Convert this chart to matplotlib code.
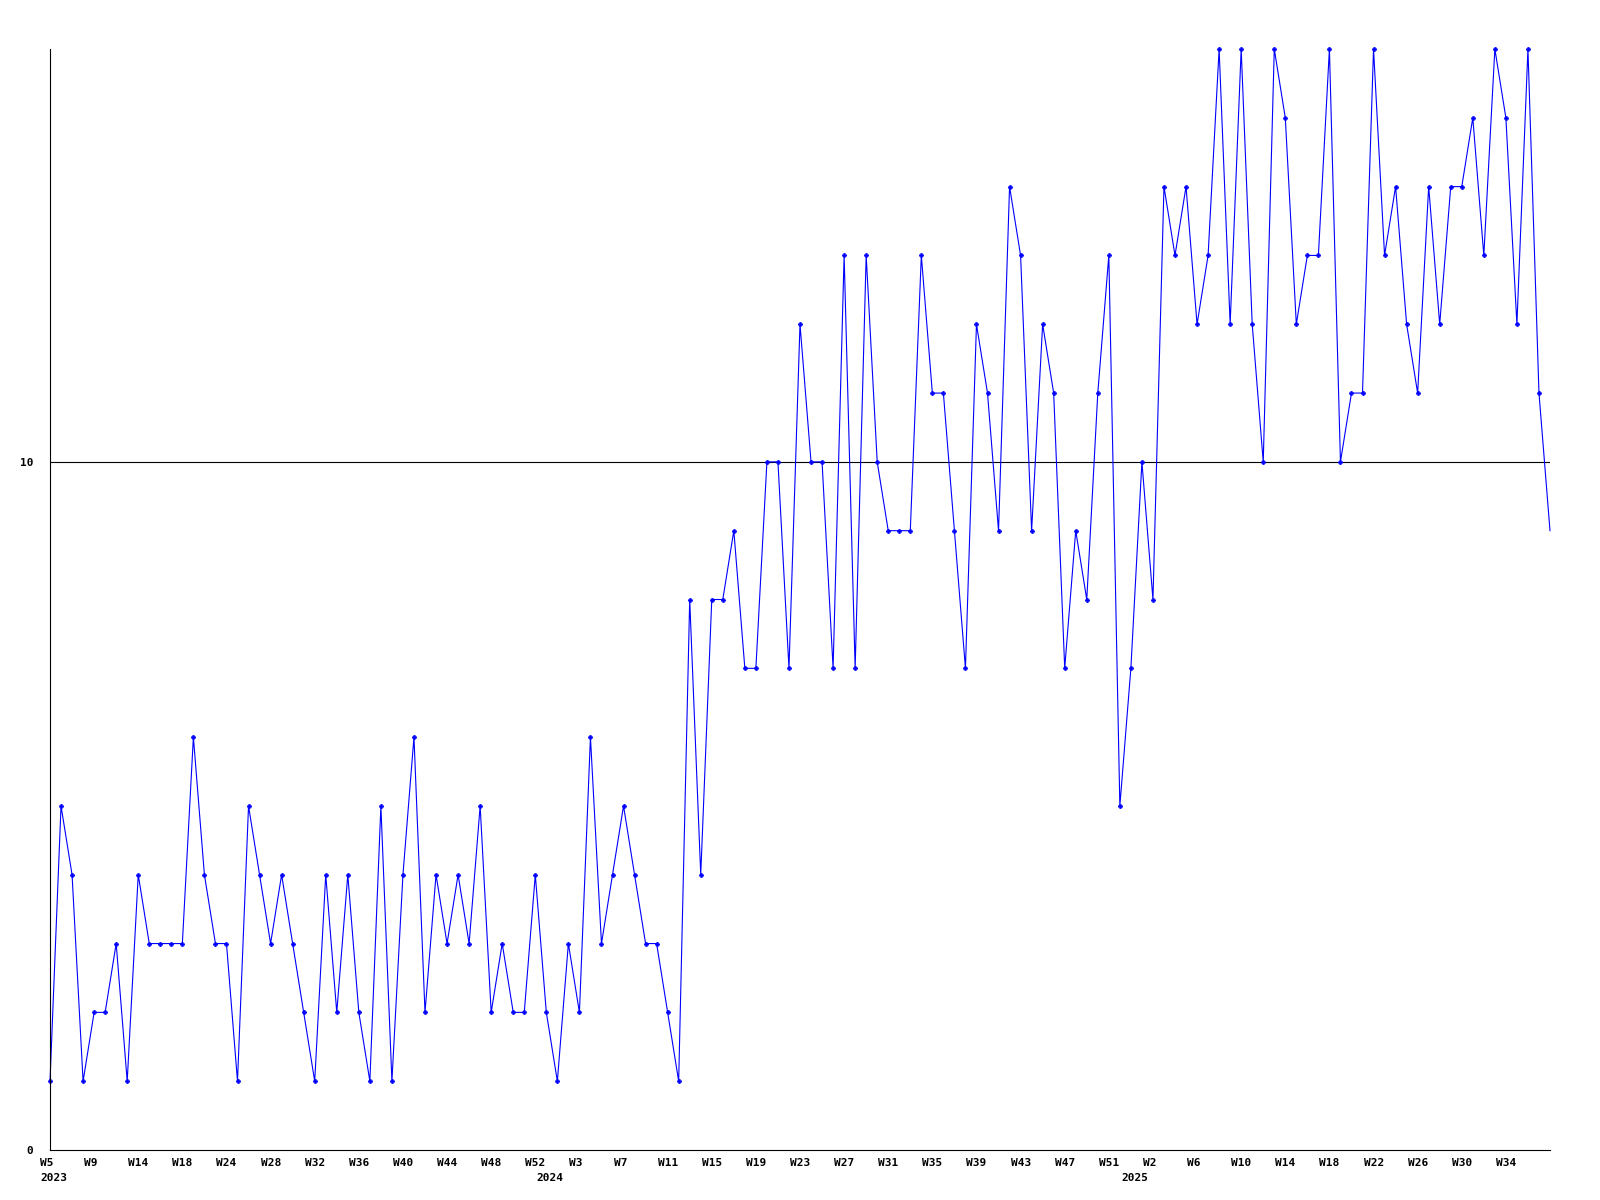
import matplotlib
matplotlib.use("Agg")
from matplotlib import pyplot as plt
from matplotlib import transforms

# weekly counts (137 points)
values = [1, 5, 4, 1, 2, 2, 3, 1, 4, 3, 3, 3, 3, 6, 4, 3, 3, 1, 5, 4,
          3, 4, 3, 2, 1, 4, 2, 4, 2, 1, 5, 1, 4, 6, 2, 4, 3, 4, 3, 5,
          2, 3, 2, 2, 4, 2, 1, 3, 2, 6, 3, 4, 5, 4, 3, 3, 2, 1, 8, 4,
          8, 8, 9, 7, 7, 10, 10, 7, 12, 10, 10, 7, 13, 7, 13, 10, 9, 9, 9, 13,
          11, 11, 9, 7, 12, 11, 9, 14, 13, 9, 12, 11, 7, 9, 8, 11, 13, 5, 7, 10,
          8, 14, 13, 14, 12, 13, 16, 12, 16, 12, 10, 16, 15, 12, 13, 13, 16, 10, 11, 11,
          16, 13, 14, 12, 11, 14, 12, 14, 14, 15, 13, 16, 15, 12, 16, 11, 9]

week_labels = ['W5', 'W9', 'W14', 'W18', 'W24', 'W28', 'W32', 'W36', 'W40', 'W44',
               'W48', 'W52', 'W3', 'W7', 'W11', 'W15', 'W19', 'W23', 'W27', 'W31',
               'W35', 'W39', 'W43', 'W47', 'W51', 'W2', 'W6', 'W10', 'W14', 'W18',
               'W22', 'W26', 'W30', 'W34']
year_labels = ['2023', '2024', '2025']
year_pos = [0, 45, 98]
y_ticks = [0, 10]

x = list(range(len(values)))
week_pos = [4 * i for i in range(len(week_labels))]

font = dict(family='DejaVu Sans Mono', weight='bold', size=8)

fig = plt.figure(figsize=(16, 12), dpi=100)
ax = fig.add_axes([50 / 1600, 1 - 1150 / 1200, 1500 / 1600, 1101 / 1200])

ax.axhline(10, color='black', lw=0.8, zorder=1)
ax.plot(x, values, color='#0000ff', lw=0.8, marker='P', markersize=3,
        markeredgewidth=0.5, markevery=slice(0, len(values) - 1),
        clip_on=False, zorder=3)

ax.set_xlim(0, len(values) - 1)
ax.set_ylim(0, 16)
for s in ['top', 'right']:
    ax.spines[s].set_visible(False)
for s in ['left', 'bottom']:
    ax.spines[s].set_linewidth(0.8)
    ax.spines[s].set_zorder(4)

ax.set_yticks(y_ticks, [str(v) for v in y_ticks], **font)
ax.tick_params(axis='y', length=0, pad=12)

ax.set_xticks(week_pos, week_labels, **font)
ax.tick_params(axis='x', length=0, pad=6)
shift = transforms.ScaledTranslation(-10 / 100, 0, fig.dpi_scale_trans)
for lbl in ax.get_xticklabels():
    lbl.set_horizontalalignment('left')
    lbl.set_transform(lbl.get_transform() + shift)

trans = transforms.blended_transform_factory(ax.transData, ax.transAxes)
for pos, yr in zip(year_pos, year_labels):
    ax.text(pos, 0, yr, transform=trans + transforms.ScaledTranslation(-10 / 100, -28 / 100, fig.dpi_scale_trans),
            ha='left', va='center', **font)

fig.savefig('out.png', dpi=100)
